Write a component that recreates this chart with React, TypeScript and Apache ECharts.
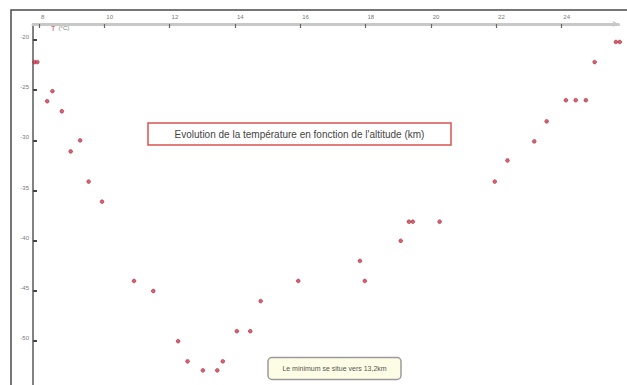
import React, { useEffect, useRef } from "react";
import * as echarts from "echarts";

const ALTITUDE_KM = [
  7.86, 7.95, 8.25, 8.41, 8.7, 8.97, 9.26, 9.52, 9.93, 10.91, 11.5, 12.26, 12.55, 13.02, 13.46,
  13.63, 14.06, 14.47, 14.79, 15.94, 17.83, 17.98, 19.08, 19.33, 19.45, 20.27, 21.96, 22.35,
  23.17, 23.55, 24.14, 24.44, 24.75, 25.02, 25.67, 25.79,
];
const TEMPERATURE_C = [
  -22.2, -22.2, -26.1, -25.1, -27.1, -31.1, -30.0, -34.1, -36.1, -44.0, -45.0, -50.0, -52.0,
  -52.9, -52.9, -52.0, -49.0, -49.0, -46.0, -44.0, -42.0, -44.0, -40.0, -38.1, -38.1, -38.1,
  -34.1, -32.0, -30.1, -28.1, -26.0, -26.0, -26.0, -22.2, -20.2, -20.2,
];
const X_TICKS = [8, 10, 12, 14, 16, 18, 20, 22, 24];
const Y_TICKS = [-20, -25, -30, -35, -40, -45, -50];
const TITLE = "Evolution de la température en fonction de l'altitude (km)";
const NOTE = "Le minimum se situe vers 13,2km";

export default function App() {
  const ref = useRef<HTMLDivElement>(null);
  useEffect(() => {
    if (!ref.current) return;
    const chart = echarts.init(ref.current, undefined, { renderer: "svg" });
    const points = ALTITUDE_KM.map((x, i) => [x, TEMPERATURE_C[i]]);
    chart.setOption({
      animation: false,
      backgroundColor: "#ffffff",
      textStyle: { fontFamily: "Liberation Sans, Arial, sans-serif" },
      grid: { left: 33, top: 24, right: 8.5, bottom: 0 },
      xAxis: {
        type: "value",
        position: "top",
        min: 7.816,
        max: 25.75,
        axisLine: {
          show: true,
          onZero: false,
          symbol: ["none", "arrow"],
          symbolSize: [5, 6],
          lineStyle: { color: "#c8c8c8", width: 3 },
        },
        axisTick: {
          show: true,
          inside: true,
          length: 4,
          customValues: X_TICKS,
          lineStyle: { color: "#666", width: 1.2 },
        },
        axisLabel: {
          show: true,
          customValues: X_TICKS,
          fontSize: 6,
          color: "#777",
          align: "left",
          margin: 4,
          padding: [0, 0, 0, 2],
        },
        splitLine: { show: false },
      },
      yAxis: {
        type: "value",
        position: "left",
        min: -54.36,
        max: -18.41,
        axisLine: { show: true, onZero: false, lineStyle: { color: "#5a5a5a", width: 1.5 } },
        axisTick: {
          show: true,
          inside: true,
          length: 4,
          customValues: Y_TICKS,
          lineStyle: { color: "#444", width: 2 },
        },
        axisLabel: {
          show: true,
          customValues: Y_TICKS,
          fontSize: 6,
          color: "#777",
          margin: 4,
          verticalAlign: "bottom",
        },
        splitLine: { show: false },
      },
      series: [
        {
          type: "scatter",
          data: points,
          clip: false,
          symbol: "circle",
          symbolSize: 3.8,
          itemStyle: { color: "#d8354a", borderColor: "#8a2232", borderWidth: 0.6 },
        },
      ],
      graphic: [
        {
          type: "rect",
          shape: { x: 11, y: 10, width: 700, height: 500 },
          style: { fill: "none", stroke: "#4a4a4a", lineWidth: 1.5 },
          silent: true,
          z: 10,
        },
        {
          type: "text",
          x: 51,
          y: 28,
          style: {
            text: "{t|T} {u|(°C)}",
            rich: {
              t: { fill: "#d2384a", fontSize: 7 },
              u: { fill: "#777", fontSize: 6 },
            },
            verticalAlign: "middle",
          },
        },
        {
          type: "rect",
          shape: { x: 148, y: 123, width: 303, height: 22 },
          style: { fill: "#ffffff", stroke: "#d9534f", lineWidth: 1.5 },
        },
        {
          type: "text",
          x: 299.5,
          y: 134,
          style: {
            text: TITLE,
            fill: "#444",
            fontSize: 10,
            fontFamily: "Liberation Sans, Arial, sans-serif",
            align: "center",
            verticalAlign: "middle",
          },
        },
        {
          type: "rect",
          shape: { x: 268, y: 357.5, width: 133, height: 22, r: 4 },
          style: { fill: "#fdfde6", stroke: "#9a9a9a", lineWidth: 1.5 },
        },
        {
          type: "text",
          x: 334.5,
          y: 368.5,
          style: {
            text: NOTE,
            fill: "#555",
            fontSize: 7,
            fontFamily: "Liberation Sans, Arial, sans-serif",
            align: "center",
            verticalAlign: "middle",
          },
        },
      ],
    });
    return () => chart.dispose();
  }, []);
  return (
    <div
      ref={ref}
      style={{ position: "fixed", left: 0, top: 0, width: 627, height: 385 }}
    />
  );
}
